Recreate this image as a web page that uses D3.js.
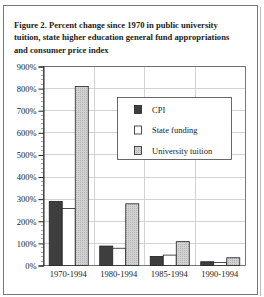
<!DOCTYPE html>
<html><head><meta charset="utf-8">
<script src="https://cdn.jsdelivr.net/npm/d3@7"></script>
<style>body{margin:0;background:#fff;}svg{display:block;}</style>
</head><body>
<svg id="c" width="264" height="297"></svg>
<script>
const titleLines = ["Figure 2. Percent change since 1970 in public university",
  "tuition, state higher education general fund appropriations",
  "and consumer price index"];
const categories = ["1970-1994","1980-1994","1985-1994","1990-1994"];
const seriesNames = ["CPI","State funding","University tuition"];
const cpi = [290, 88, 41, 17];
const stateFunding = [258, 78, 47, 14];
const tuition = [810, 279, 108, 35];
const yTicks = [0,100,200,300,400,500,600,700,800,900];
const seriesValues = [cpi, stateFunding, tuition];
const colors = ["#3e3e3e","#ffffff","url(#stip)"];

const svg = d3.select("#c");
const defs = svg.append("defs");
const pat = defs.append("pattern").attr("id","stip").attr("width",2).attr("height",2).attr("patternUnits","userSpaceOnUse");
pat.append("rect").attr("width",2).attr("height",2).attr("fill","#d2d2d2");
pat.append("rect").attr("width",1).attr("height",1).attr("fill","#b4b4b4");

// frame
svg.append("rect").attr("x",3.5).attr("y",5.5).attr("width",254).attr("height",289).attr("fill","#fff").attr("stroke","#777").attr("stroke-width",1);
svg.append("line").attr("x1",260.5).attr("x2",260.5).attr("y1",7).attr("y2",296).attr("stroke","#bbb");

const tg = svg.append("g").attr("font-family","Liberation Serif, serif").attr("font-weight","bold").attr("font-size",8.6).attr("fill","#222");
titleLines.forEach((t,i)=>tg.append("text").attr("x",14).attr("y",28+i*12.3).text(t));

const m = {l:43, r:245, t:66, b:265};
const x = d3.scaleBand().domain(categories).range([m.l,m.r]).paddingInner(0).paddingOuter(0);
const y = d3.scaleLinear().domain([0,900]).range([m.b,m.t]);
const xs = d3.scaleBand().domain(d3.range(3)).range([0,x.bandwidth()]).paddingInner(0).paddingOuter(0.44);

// grid
const g = svg.append("g");
g.selectAll("line.h").data(yTicks.slice(1)).join("line")
  .attr("x1",m.l).attr("x2",m.r).attr("y1",d=>Math.round(y(d))+0.5).attr("y2",d=>Math.round(y(d))+0.5)
  .attr("stroke","#c8c8c8").attr("stroke-width",0.8);
g.selectAll("line.v").data(categories.slice(1)).join("line")
  .attr("x1",d=>Math.round(x(d))+0.5).attr("x2",d=>Math.round(x(d))+0.5).attr("y1",m.t).attr("y2",m.b)
  .attr("stroke","#c8c8c8").attr("stroke-width",0.8);
svg.append("rect").attr("x",m.l+0.5).attr("y",m.t+0.5).attr("width",m.r-m.l).attr("height",m.b-m.t).attr("fill","none").attr("stroke","#555").attr("stroke-width",0.8);

// y axis
const ya = svg.append("g").attr("transform",`translate(${m.l+0.5},0.5)`)
  .call(d3.axisLeft(y).tickValues(yTicks).tickFormat(d=>d+"%").tickSize(5).tickPadding(2));
ya.select(".domain").attr("stroke","#222");
ya.selectAll("line").attr("stroke","#222");
ya.selectAll("text").attr("font-family","Liberation Serif, serif").attr("font-size",8.5).attr("fill","#222");
const minor = d3.range(0,900,20).filter(v=>v%100!==0);
svg.append("g").selectAll("line").data(minor).join("line")
  .attr("x1",m.l-2).attr("x2",m.l).attr("y1",d=>Math.round(y(d))+0.5).attr("y2",d=>Math.round(y(d))+0.5)
  .attr("stroke","#666").attr("stroke-width",0.6);

// bars
categories.forEach((c,ci)=>{
  seriesValues.forEach((vals,si)=>{
    svg.append("rect")
      .attr("x",x(c)+xs(si)+0.5).attr("y",y(vals[ci])+0.5)
      .attr("width",xs.bandwidth()).attr("height",y(0)-y(vals[ci]))
      .attr("fill",colors[si]).attr("stroke","#222").attr("stroke-width",0.8);
  });
});

// x labels
svg.append("g").selectAll("text").data(categories).join("text")
  .attr("x",d=>x(d)+x.bandwidth()/2).attr("y",277).attr("text-anchor","middle")
  .attr("font-family","Liberation Serif, serif").attr("font-size",8.5).attr("fill","#222").text(d=>d);

// legend
const lg = svg.append("g");
lg.append("rect").attr("x",117.5).attr("y",97.5).attr("width",114).attr("height",62).attr("fill","#fff").attr("stroke","#444").attr("stroke-width",0.8);
seriesNames.forEach((n,i)=>{
  const yy = 105 + i*20.5;
  lg.append("rect").attr("x",134.5).attr("y",yy+0.5).attr("width",7).attr("height",8).attr("fill",colors[i]).attr("stroke","#222").attr("stroke-width",0.8);
  lg.append("text").attr("x",152).attr("y",yy+7.5).attr("font-family","Liberation Serif, serif").attr("font-size",8.5).attr("fill","#222").text(n);
});
</script>
</body></html>
